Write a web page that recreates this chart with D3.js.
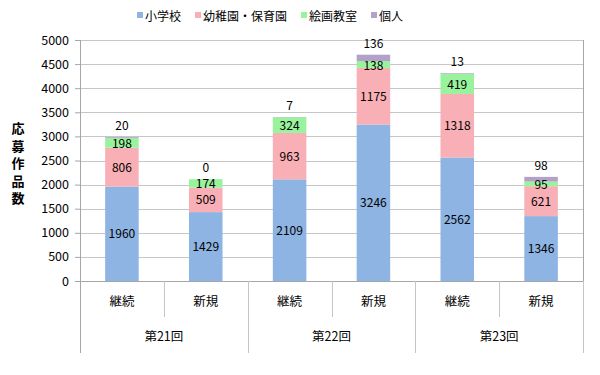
<!DOCTYPE html>
<html>
<head>
<meta charset="utf-8">
<script src="https://cdn.jsdelivr.net/npm/d3@7"></script>
<style>
  body { margin: 0; background: #fff; }
  text { font-family: "Noto Sans CJK JP", "Noto Sans", sans-serif; fill: #000; }
</style>
</head>
<body>
<svg id="chart"></svg>
<script>
const size = { w: 600, h: 375 };
const margin = { t: 40, r: 17, b: 94, l: 80 };

// data
const rounds = ['第21回', '第22回', '第23回'];
const kinds = ['継続', '新規'];
const series = ['小学校', '幼稚園・保育園', '絵画教室', '個人'];
const colors = ['#8db4e2', '#f9afb6', '#99f39c', '#b3a2c7'];
const shogakko = [1960, 1429, 2109, 3246, 2562, 1346];
const yochien = [806, 509, 963, 1175, 1318, 621];
const kaiga = [198, 174, 324, 138, 419, 95];
const kojin = [20, 0, 7, 136, 13, 98];
const yTicks = [0, 500, 1000, 1500, 2000, 2500, 3000, 3500, 4000, 4500, 5000];

const cats = [];
rounds.forEach(r => kinds.forEach(k => cats.push(r + '|' + k)));
const rows = cats.map((c, i) => ({
    cat: c,
    '小学校': shogakko[i],
    '幼稚園・保育園': yochien[i],
    '絵画教室': kaiga[i],
    '個人': kojin[i]
}));

const svg = d3.select('svg#chart')
    .attr('width', size.w)
    .attr('height', size.h);

const w = size.w - margin.l - margin.r;
const h = size.h - margin.t - margin.b;

const g = svg.append('g')
    .attr('transform', `translate(${margin.l}, ${margin.t})`);

const x = d3.scaleBand().domain(cats).range([0, w]);
const y = d3.scaleLinear().domain([0, 5000]).range([h, 0]);

// grid
g.selectAll('line.grid')
    .data(yTicks.filter(t => t > 0))
    .join('line')
    .classed('grid', true)
    .attr('x1', 0).attr('x2', w)
    .attr('y1', d => Math.round(y(d)) + 0.5)
    .attr('y2', d => Math.round(y(d)) + 0.5)
    .attr('stroke', '#c6c6c6');

// right border
g.append('line')
    .attr('x1', w + 0.5).attr('x2', w + 0.5)
    .attr('y1', 0).attr('y2', h)
    .attr('stroke', '#a6a6a6');

// y axis
const yAxis = g.append('g')
    .call(d3.axisLeft(y).tickValues(yTicks).tickFormat(d3.format('d')).tickSize(5).tickPadding(6));
yAxis.select('.domain').remove();
yAxis.selectAll('line').attr('stroke', '#a6a6a6');
yAxis.selectAll('text').style('font-size', '12.5px').attr('fill', '#000');

// stacked bars
const stack = d3.stack().keys(series);
const layers = stack(rows);
const bw = x.bandwidth() * 0.4;

const layerG = g.selectAll('g.layer')
    .data(layers)
    .join('g')
    .classed('layer', true)
    .attr('fill', (d, i) => colors[i]);

layerG.selectAll('rect')
    .data(d => d)
    .join('rect')
    .attr('x', d => x(d.data.cat) + (x.bandwidth() - bw) / 2)
    .attr('y', d => y(d[1]))
    .attr('width', bw)
    .attr('height', d => y(d[0]) - y(d[1]));

// value labels (個人 sits above the stack)
layers.forEach((layer, li) => {
    g.append('g').selectAll('text')
        .data(layer)
        .join('text')
        .attr('x', d => x(d.data.cat) + x.bandwidth() / 2)
        .attr('y', d => li === 3 ? y(d[1]) - 7 : (y(d[0]) + y(d[1])) / 2 + (li === 2 ? 5 : 4.5))
        .attr('text-anchor', 'middle')
        .style('font-size', '12px')
        .text(d => d[1] - d[0]);
});

// x axis base
g.append('line')
    .attr('x1', -5).attr('x2', w + 0.5)
    .attr('y1', h + 0.5).attr('y2', h + 0.5)
    .attr('stroke', '#a6a6a6');
g.append('line')
    .attr('x1', 0.5).attr('x2', 0.5)
    .attr('y1', 0).attr('y2', h + 72)
    .attr('stroke', '#a6a6a6');

// category dividers
cats.forEach((c, i) => {
    const xe = x(c) + x.bandwidth();
    const groupEnd = i % 2 === 1;
    g.append('line')
        .attr('x1', Math.round(xe) + 0.5).attr('x2', Math.round(xe) + 0.5)
        .attr('y1', h).attr('y2', h + (groupEnd ? 72 : 36))
        .attr('stroke', '#c6c6c6');
});

g.append('g').selectAll('text')
    .data(cats)
    .join('text')
    .attr('x', d => x(d) + x.bandwidth() / 2)
    .attr('y', h + 25)
    .attr('text-anchor', 'middle')
    .style('font-size', '12.5px')
    .text(d => d.split('|')[1]);

g.append('g').selectAll('text')
    .data(rounds)
    .join('text')
    .attr('x', (d, i) => x(d + '|' + kinds[0]) + x.bandwidth())
    .attr('y', h + 60)
    .attr('text-anchor', 'middle')
    .style('font-size', '12.5px')
    .text(d => d);

// y title, one character per line
const yt = svg.append('text')
    .attr('x', 18)
    .attr('y', 133)
    .attr('text-anchor', 'middle')
    .style('font-size', '13px')
    .style('font-weight', 'bold');
'応募作品数'.split('').forEach((ch, i) => {
    yt.append('tspan').attr('x', 18).attr('dy', i === 0 ? 0 : 17.5).text(ch);
});

// legend, laid out from measured text widths
const leg = svg.append('g');
const items = leg.selectAll('g')
    .data(series)
    .join('g');
items.append('rect')
    .attr('x', 0).attr('y', -6)
    .attr('width', 6).attr('height', 6)
    .attr('fill', (d, i) => colors[i]);
items.append('text')
    .attr('x', 8).attr('y', 3)
    .style('font-size', '12px')
    .text(d => d);
let lx = 0;
items.each(function () {
    d3.select(this).attr('transform', `translate(${lx}, 18)`);
    lx += 8 + d3.select(this).select('text').node().getComputedTextLength() + 14;
});
lx -= 14;
leg.attr('transform', `translate(${Math.round(270 - lx / 2)}, 0)`);
</script>
</body>
</html>
